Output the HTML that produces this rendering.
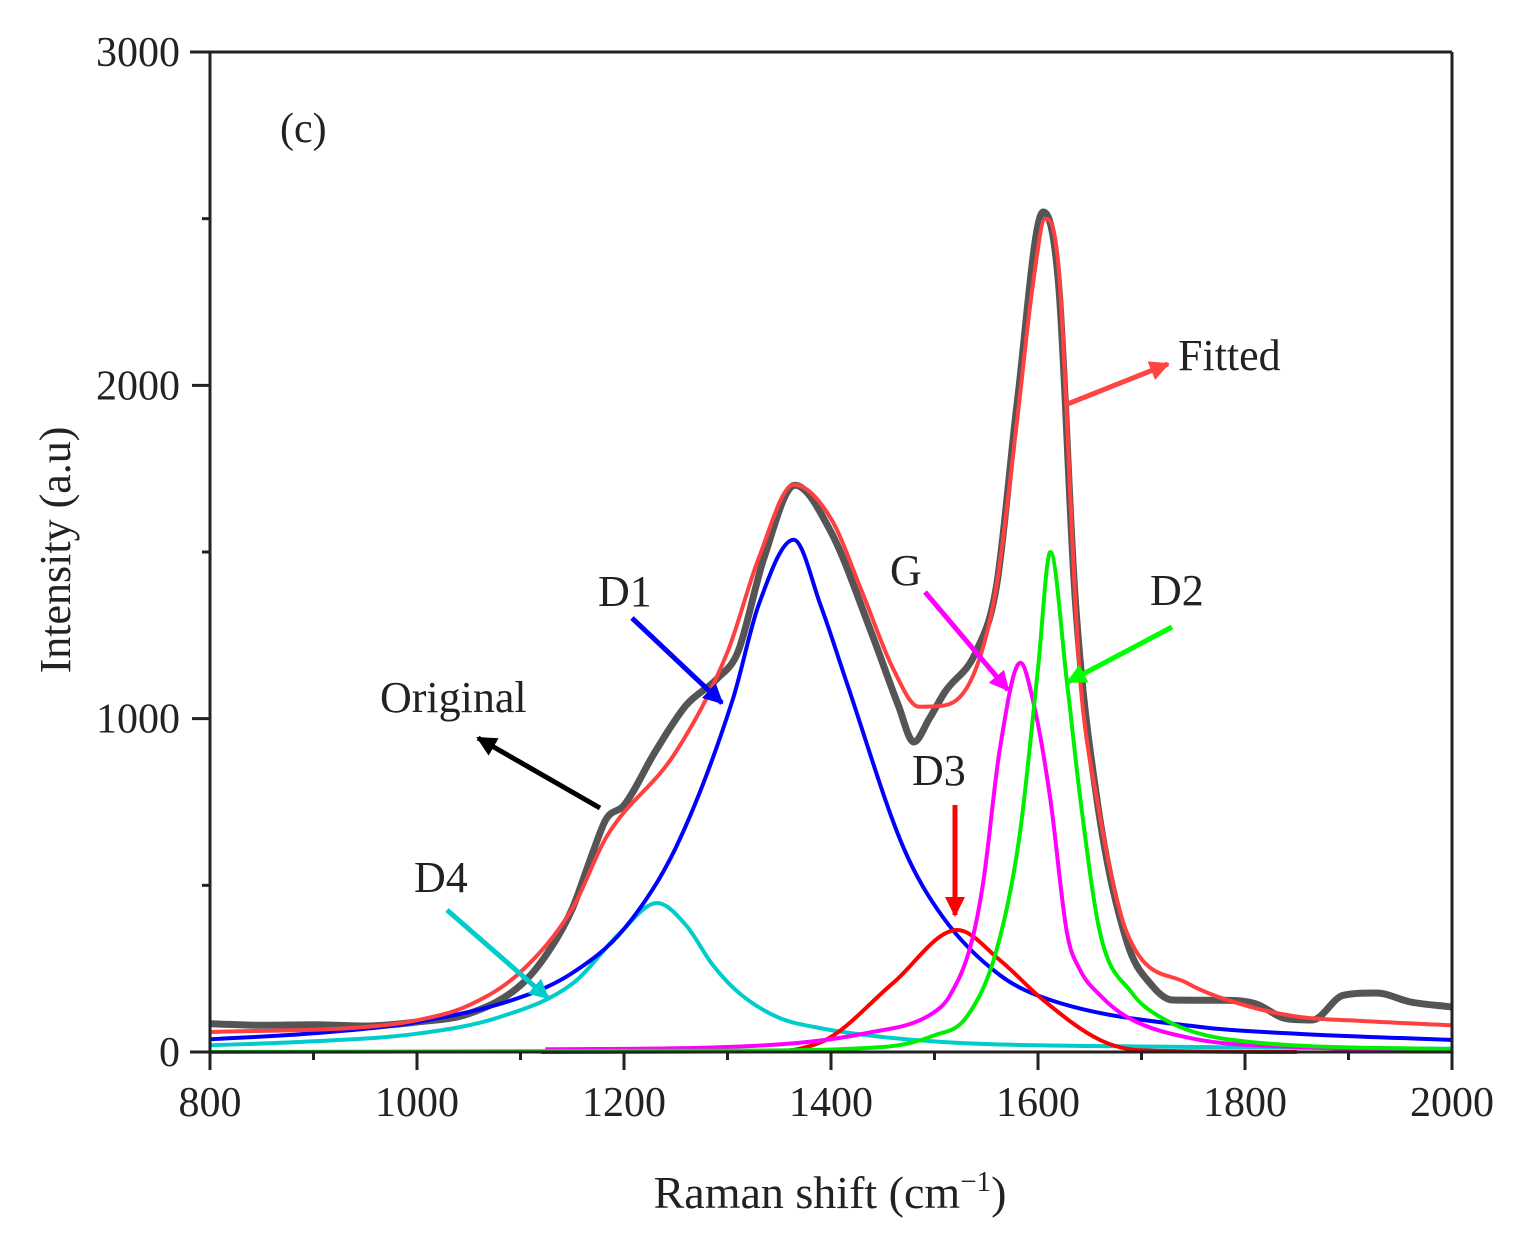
<!DOCTYPE html>
<html><head><meta charset="utf-8"><style>
body{margin:0;background:#fff}
svg text{font-family:"Liberation Serif",serif;fill:#222}
</style></head><body>
<svg id="chart" width="1520" height="1242" viewBox="0 0 1520 1242" xmlns="http://www.w3.org/2000/svg">
<defs>
<marker id="ah" viewBox="0 0 10 10" refX="9" refY="5" markerWidth="4" markerHeight="4" orient="auto" markerUnits="strokeWidth"><path d="M0,0L10,5L0,10z" fill="context-stroke"/></marker>
</defs>
<g id="plot"></g>
<g id="axes"></g>
<text x="280" y="142" font-size="42">(c)</text>
<text x="830" y="1208" font-size="46" text-anchor="middle">Raman shift (cm<tspan dy="-17" font-size="29">−1</tspan><tspan dy="17">)</tspan></text>
<text transform="translate(70,550) rotate(-90)" font-size="44" text-anchor="middle">Intensity (a.u)</text>
<g id="annot">
<text x="380" y="712" font-size="44">Original</text>
<line x1="600" y1="808" x2="478" y2="738" stroke="#000" stroke-width="5" marker-end="url(#ah)"/>
<text x="598" y="606" font-size="44">D1</text>
<line x1="632" y1="618" x2="722" y2="703" stroke="#0000ff" stroke-width="5" marker-end="url(#ah)"/>
<text x="414" y="892" font-size="44">D4</text>
<line x1="447" y1="910" x2="548" y2="998" stroke="#00cccc" stroke-width="5" marker-end="url(#ah)"/>
<text x="890" y="585" font-size="44">G</text>
<line x1="925" y1="592" x2="1008" y2="690" stroke="#ff00ff" stroke-width="5" marker-end="url(#ah)"/>
<text x="1150" y="605" font-size="44">D2</text>
<line x1="1172" y1="627" x2="1068" y2="682" stroke="#00ff00" stroke-width="5" marker-end="url(#ah)"/>
<text x="912" y="785" font-size="44">D3</text>
<line x1="955" y1="805" x2="955" y2="915" stroke="#ff0000" stroke-width="5" marker-end="url(#ah)"/>
<text x="1178" y="370" font-size="44">Fitted</text>
<line x1="1065" y1="405" x2="1168" y2="364" stroke="#ff4444" stroke-width="5" marker-end="url(#ah)"/>
</g>
</svg>
<script>
const xTicks=[800,1000,1200,1400,1600,1800,2000];
const yTicks=[0,1000,2000,3000];
const originalX=[800,850,900,950,1000,1050,1100,1128,1150,1170,1183,1200,1230,1260,1290,1310,1335,1365,1400,1440,1465,1480,1495,1510,1540,1560,1580,1605,1620,1636,1657,1686,1710,1730,1780,1810,1840,1865,1895,1927,1960,2000];
const originalY=[85,80,82,78,90,115,200,306,430,600,700,740,900,1040,1120,1200,1480,1700,1560,1250,1040,930,1000,1080,1200,1400,1950,2520,2300,1357,757,330,200,156,155,145,100,96,170,177,150,135];
const fittedX=[800,950,1000,1050,1100,1150,1183,1250,1300,1330,1364,1400,1430,1460,1485,1510,1540,1560,1580,1595,1607,1620,1636,1641,1657,1686,1744,1800,1853,1900,2000];
const fittedY=[60,75,95,140,240,430,645,900,1200,1480,1702,1600,1380,1150,1036,1040,1150,1400,1900,2300,2500,2350,1357,1108,757,357,207,140,105,95,80];
const d1X=[800,900,1000,1100,1150,1200,1250,1305,1330,1364,1390,1415,1470,1508,1563,1612,1757,1850,2000];
const d1Y=[38,56,90,164,237,369,613,1057,1340,1537,1340,1110,613,405,231,156,75,55,36];
const d4X=[800,900,1000,1080,1151,1196,1232,1260,1286,1310,1348,1389,1450,1525,1650,2000];
const d4Y=[20,32,55,105,207,357,447,380,260,180,105,72,45,27,18,10];
const d3X=[1120,1340,1370,1400,1460,1522,1563,1605,1660,1700,1850];
const d3Y=[0,2,10,45,207,366,276,156,36,5,0];
const gX=[1124,1300,1435,1500,1515,1535,1547,1563,1583,1595,1612,1628,1640,1660,1686,1750,1850,2000];
const gY=[8,15,57,120,170,320,507,906,1168,1057,757,357,250,170,105,40,15,5];
const d2X=[800,1300,1450,1500,1531,1560,1582,1600,1612,1628,1641,1660,1690,1718,1788,2000];
const d2Y=[0,4,15,50,105,306,645,1150,1500,1108,757,357,180,105,36,8];

const L=210,R=1452,T=52,B=1052;
const sx=v=>L+(v-800)/1200*(R-L);
const sy=v=>B-v/3000*(B-T);
const NS="http://www.w3.org/2000/svg";
function smooth(xs,ys){
  const n=xs.length, P=xs.map((x,i)=>[sx(x),sy(ys[i])]);
  const d=[],m=new Array(n).fill(0);
  for(let i=0;i<n-1;i++) d.push((P[i+1][1]-P[i][1])/(P[i+1][0]-P[i][0]));
  m[0]=d[0];m[n-1]=d[n-2];
  for(let i=1;i<n-1;i++){ m[i]=(d[i-1]*d[i]<=0)?0:(d[i-1]+d[i])/2; }
  for(let i=0;i<n-1;i++){
    if(d[i]===0){m[i]=0;m[i+1]=0;continue;}
    const a=m[i]/d[i],b=m[i+1]/d[i],s=a*a+b*b;
    if(s>9){const t=3/Math.sqrt(s);m[i]=t*a*d[i];m[i+1]=t*b*d[i];}
  }
  let p="M"+P[0][0].toFixed(1)+","+P[0][1].toFixed(1);
  for(let i=0;i<n-1;i++){
    const h=(P[i+1][0]-P[i][0])/3;
    p+="C"+(P[i][0]+h).toFixed(1)+","+(P[i][1]+m[i]*h).toFixed(1)+" "+(P[i+1][0]-h).toFixed(1)+","+(P[i+1][1]-m[i+1]*h).toFixed(1)+" "+P[i+1][0].toFixed(1)+","+P[i+1][1].toFixed(1);
  }
  return p;
}
const plot=document.getElementById('plot');
function addLine(xs,ys,color,w,name){
  const el=document.createElementNS(NS,'path');
  el.setAttribute('d',smooth(xs,ys));
  el.setAttribute('fill','none');el.setAttribute('stroke',color);el.setAttribute('stroke-width',w);
  el.setAttribute('stroke-linejoin','round');
  
  
  plot.appendChild(el);
}
addLine(originalX,originalY,'#555','7','series-original');
addLine(d4X,d4Y,'#00cccc','4','series-d4');
addLine(d1X,d1Y,'#0000ff','4','series-d1');
addLine(d3X,d3Y,'#ff0000','4','series-d3');
addLine(gX,gY,'#ff00ff','4','series-g');
addLine(d2X,d2Y,'#00ee00','4','series-d2');
addLine(fittedX,fittedY,'#ff4040','4','series-fitted');

const ax=document.getElementById('axes');
function ln(x1,y1,x2,y2,w,name){
  const e=document.createElementNS(NS,'line');
  e.setAttribute('x1',x1);e.setAttribute('y1',y1);e.setAttribute('x2',x2);e.setAttribute('y2',y2);
  e.setAttribute('stroke','#222');e.setAttribute('stroke-width',w);
  
  
  ax.appendChild(e);
}
function tx(x,y,s,anchor,name){
  const e=document.createElementNS(NS,'text');
  e.setAttribute('x',x);e.setAttribute('y',y);e.setAttribute('font-size','42');e.setAttribute('text-anchor',anchor);
  e.textContent=s;
  
  
  ax.appendChild(e);
}
ln(L,T,L,B+1,3,'y-axis-line');
ln(L-20,B,R,B,3,'x-axis-line');
ln(L-20,T,R,T,3,'top-frame');
ln(R,T,R,B,3,'right-frame');
xTicks.forEach(v=>{ln(sx(v),B,sx(v),B+18,3,'x-tick');tx(sx(v),B+64,String(v),'middle','x-tick-label');});
for(let v=900;v<2000;v+=200) ln(sx(v),B,sx(v),B+8,3,'x-minor-tick');
yTicks.forEach(v=>{ln(L-18,sy(v),L,sy(v),3,'y-tick');tx(L-30,sy(v)+14,String(v),'end','y-tick-label');});
for(let v=500;v<3000;v+=1000) ln(L-8,sy(v),L,sy(v),3,'y-minor-tick');
</script>
</body></html>
